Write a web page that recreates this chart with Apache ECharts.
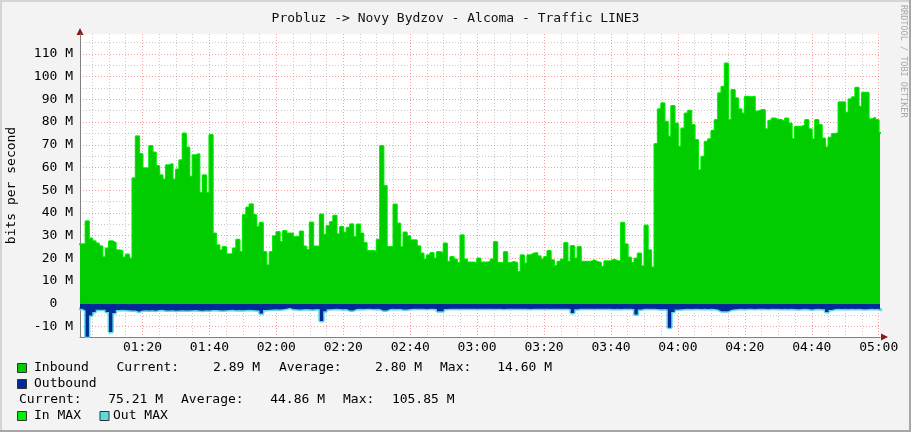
<!DOCTYPE html>
<html><head><meta charset="utf-8">
<script src="https://cdn.jsdelivr.net/npm/echarts@6/dist/echarts.min.js"></script>
<style>html,body{margin:0;padding:0;background:#f3f3f3}#c{width:911px;height:432px}</style>
</head><body><div id="c"></div>
<script>
const TITLE = 'Probluz -> Novy Bydzov - Alcoma - Traffic LINE3';
const Y_NAME = 'bits per second';
const SIDE_NOTE = 'RRDTOOL / TOBI OETIKER';
// one value per minute, first value = minute 61 (01:01), in Mbit/s
const FIRST_MINUTE = 61;
const inboundM = [
 26.2, 26.2, 36.3, 28.7, 27.5, 26.5, 25.3, 20.4, 24.3, 27.5,
 26.8, 23.5, 23.2, 20.3, 21.6, 19.9, 55.2, 73.8, 65.9, 59.6,
 59.6, 69.4, 66.6, 60.6, 56.6, 54.7, 61.0, 61.5, 54.7, 59.1,
 63.2, 75.0, 68.8, 55.9, 65.4, 65.9, 48.8, 56.6, 48.8, 74.3,
 30.9, 25.7, 23.5, 25.0, 21.8, 21.8, 24.3, 28.2, 22.8, 39.0,
 42.4, 43.8, 39.0, 33.8, 35.6, 22.8, 16.9, 22.8, 29.7, 31.6,
 27.2, 32.0, 30.9, 30.9, 29.4, 29.4, 31.8, 25.2, 23.6, 35.8,
 25.2, 25.2, 39.3, 30.4, 34.2, 36.0, 38.7, 30.6, 33.8, 31.2,
 33.4, 35.0, 29.4, 34.9, 30.9, 26.7, 23.2, 23.2, 22.8, 28.2,
 69.4, 51.8, 25.0, 25.0, 43.7, 35.3, 25.0, 31.3, 29.7, 27.9,
 27.9, 25.3, 22.1, 19.5, 21.3, 22.3, 19.9, 22.8, 22.1, 26.5,
 18.4, 20.6, 19.4, 17.9, 30.1, 19.4, 18.1, 18.1, 17.7, 19.9,
 18.1, 18.1, 18.4, 19.4, 27.2, 17.9, 17.9, 22.8, 17.9, 18.4,
 17.9, 13.9, 21.3, 17.7, 21.3, 22.1, 22.3, 20.9, 19.4, 20.6,
 23.2, 19.1, 16.6, 18.4, 19.4, 26.7, 18.4, 25.4, 19.9, 25.0,
 18.4, 18.4, 18.4, 19.1, 18.4, 18.0, 16.2, 18.7, 18.7, 19.4,
 18.7, 18.7, 35.6, 26.2, 20.3, 17.9, 19.9, 22.1, 16.5, 34.4,
 23.5, 15.9, 70.3, 85.7, 88.3, 80.1, 73.5, 87.1, 79.4, 69.1,
 77.2, 83.8, 85.0, 78.7, 72.1, 58.8, 64.7, 71.3, 72.4, 76.2,
 80.9, 92.7, 95.6, 105.85, 80.9, 94.1, 90.5, 85.6, 83.8, 91.2,
 90.9, 91.2, 84.6, 85.3, 85.3, 76.8, 80.6, 81.6, 80.9, 80.9,
 80.1, 81.6, 79.4, 72.5, 77.9, 77.9, 78.7, 80.9, 76.8, 72.4,
 80.9, 78.7, 72.8, 68.8, 73.1, 74.7, 75.3, 88.7, 88.7, 84.1,
 90.0, 90.9, 95.1, 86.8, 92.9, 92.9, 81.2, 81.9, 80.9, 75.21,
 75.21
];
const outboundM = [
 -2.2, -3.0, -14.6, -5.2, -3.7, -2.7, -2.7, -2.7, -3.7, -12.5,
 -4.1, -2.8, -2.7, -2.8, -2.9, -3.0, -3.0, -3.6, -3.0, -2.9,
 -3.0, -2.9, -3.1, -2.8, -2.7, -3.0, -3.0, -2.9, -3.1, -3.0,
 -2.9, -3.0, -3.0, -2.9, -2.8, -3.0, -3.1, -2.9, -3.0, -2.8,
 -2.8, -2.9, -3.0, -2.9, -2.8, -2.7, -2.9, -2.8, -2.9, -2.8,
 -2.7, -2.8, -2.9, -3.0, -4.4, -2.8, -2.7, -2.6, -2.5, -2.6,
 -2.5, -2.3, -1.8, -2.4, -2.5, -2.6, -2.5, -2.4, -2.5, -2.6,
 -2.4, -2.5, -7.7, -3.4, -2.5, -2.4, -2.3, -2.4, -2.5, -2.4,
 -3.0, -3.0, -2.4, -2.3, -2.4, -2.3, -2.2, -2.4, -2.3, -2.4,
 -3.0, -3.0, -2.4, -2.3, -2.4, -2.3, -2.6, -2.6, -2.4, -2.3,
 -2.3, -2.2, -2.3, -2.4, -2.2, -2.3, -2.4, -3.3, -3.3, -2.4,
 -2.2, -2.3, -2.2, -2.3, -2.2, -2.2, -2.3, -2.2, -2.3, -2.2,
 -2.2, -2.3, -2.2, -2.2, -2.3, -2.2, -2.4, -2.2, -2.2, -2.3,
 -2.2, -2.2, -2.3, -2.2, -2.4, -2.2, -2.2, -2.3, -2.2, -2.2,
 -2.3, -2.2, -2.2, -2.3, -2.2, -2.3, -2.4, -4.1, -2.5, -2.3,
 -2.2, -2.2, -2.3, -2.2, -2.3, -2.2, -2.2, -2.3, -2.2, -2.4,
 -2.3, -2.4, -2.3, -2.2, -2.3, -2.4, -4.8, -2.6, -2.3, -2.2,
 -2.3, -2.2, -2.4, -2.5, -2.4, -2.6, -10.6, -3.7, -2.6, -2.5,
 -2.4, -2.3, -2.4, -2.2, -2.3, -2.4, -2.3, -2.4, -2.3, -2.4,
 -2.6, -3.3, -3.3, -3.3, -2.7, -2.5, -2.4, -2.3, -2.4, -2.3,
 -2.3, -2.4, -2.3, -2.2, -2.3, -2.4, -2.3, -2.2, -2.3, -2.4,
 -2.3, -2.4, -2.3, -2.4, -2.5, -2.4, -2.3, -2.4, -2.6, -2.4,
 -2.3, -2.4, -2.5, -3.7, -2.8, -2.4, -2.3, -2.4, -2.3, -2.4,
 -2.3, -2.4, -2.3, -2.4, -2.5, -2.4, -2.3, -2.4, -2.3, -2.89,
 -2.89
];
// axis ticks (minutes since midnight / Mbit/s)
const xMajorTicks = [80, 100, 120, 140, 160, 180, 200, 220, 240, 260, 280, 300];
const xMinorTicks = [65, 70, 75, 85, 90, 95, 105, 110, 115, 125, 130, 135, 145, 150, 155, 165, 170, 175,
  185, 190, 195, 205, 210, 215, 225, 230, 235, 245, 250, 255, 265, 270, 275, 285, 290, 295];
const yMajorTicks = [-10, 0, 10, 20, 30, 40, 50, 60, 70, 80, 90, 100, 110];
const yMinorTicks = [-5, 5, 15, 25, 35, 45, 55, 65, 75, 85, 95, 105, 115];
const X_MIN = 61.33, X_MAX = 300.39;
const Y_MIN = -14.7, Y_MAX = 118.8;
// legend texts
const legendRow1 = ['Inbound', 'Current:', '2.89 M', 'Average:', '2.80 M', 'Max:', '14.60 M'];
const legendRow2 = ['Outbound'];
const legendRow3 = ['Current:', '75.21 M', 'Average:', '44.86 M', 'Max:', '105.85 M'];
const legendRow4 = ['In MAX', 'Out MAX'];

const FONT = 'DejaVu Sans Mono';
const C_IN = '#00cc00', C_INMAX = '#00f000', C_OUT = '#002a97', C_OUTMAX = '#5fd8df';
const MAJOR_GRID = 'rgba(240,80,80,0.55)', MINOR_GRID = 'rgba(140,140,140,0.45)';

const inData = inboundM.map((v, i) => [FIRST_MINUTE + i, v]);
const outData = outboundM.map((v, i) => [FIRST_MINUTE + i, v]);
const pad = n => (n < 10 ? '0' : '') + n;
const fmtTime = v => pad(Math.floor(v / 60)) + ':' + pad(v % 60);

const chart = echarts.init(document.getElementById('c'), null, {renderer: 'canvas'});

function txt(x, y, s, align) {
  return {type: 'text', x: x, y: y, silent: true,
    style: {text: s, font: '13px "' + FONT + '"', fill: '#000', verticalAlign: 'middle', align: align || 'left'}};
}
function sq(x, y, color) {
  return {type: 'rect', shape: {x: x, y: y, width: 9, height: 9}, silent: true,
    style: {fill: color, stroke: '#333', lineWidth: 1}};
}
const L1 = 368, L2 = 384, L3 = 400, L4 = 416;
const graphics = [
  // frame
  {type: 'rect', shape: {x: 0, y: 0, width: 911, height: 2}, style: {fill: '#d4d4d4'}, silent: true},
  {type: 'rect', shape: {x: 0, y: 0, width: 2, height: 432}, style: {fill: '#d4d4d4'}, silent: true},
  {type: 'rect', shape: {x: 909, y: 0, width: 2, height: 432}, style: {fill: '#a6a6a6'}, silent: true},
  {type: 'rect', shape: {x: 0, y: 430, width: 911, height: 2}, style: {fill: '#a6a6a6'}, silent: true},
  // arrows
  {type: 'polygon', shape: {points: [[76.5, 35], [83.5, 35], [80, 28]]}, style: {fill: '#8e1717'}, silent: true},
  {type: 'polygon', shape: {points: [[881, 333.5], [881, 340.5], [888, 337]]}, style: {fill: '#8e1717'}, silent: true},
  // side note
  {type: 'text', x: 903, y: 5, rotation: -Math.PI / 2, silent: true,
   style: {text: SIDE_NOTE, font: '8.5px "' + FONT + '"', fill: '#a8a8a8', align: 'left', verticalAlign: 'middle'}},
  // legend
  sq(17.5, L1 - 4.5, C_IN), txt(34, L1, legendRow1[0]), txt(116.5, L1, legendRow1[1]),
  txt(260, L1, legendRow1[2], 'right'), txt(279, L1, legendRow1[3]),
  txt(422, L1, legendRow1[4], 'right'), txt(440, L1, legendRow1[5]),
  txt(552, L1, legendRow1[6], 'right'),
  sq(17.5, L2 - 4.5, C_OUT), txt(34, L2, legendRow2[0]),
  txt(19, L3, legendRow3[0]), txt(163, L3, legendRow3[1], 'right'),
  txt(181, L3, legendRow3[2]), txt(325, L3, legendRow3[3], 'right'),
  txt(343, L3, legendRow3[4]), txt(454.5, L3, legendRow3[5], 'right'),
  sq(17.5, L4 - 4.5, C_INMAX), txt(34, L4, legendRow4[0]),
  sq(100, L4 - 4.5, C_OUTMAX), txt(113, L4, legendRow4[1])
];

const labelStyle = {fontFamily: FONT, fontSize: 13, color: '#000'};
chart.setOption({
  animation: false,
  backgroundColor: '#f3f3f3',
  title: {text: TITLE, left: 'center', top: 7,
    textStyle: {fontFamily: FONT, fontSize: 13, fontWeight: 'normal', color: '#111'}},
  grid: {left: 80, right: 31, top: 34, bottom: 95, show: true, backgroundColor: '#ffffff', borderWidth: 0,
    containLabel: false, outerBoundsMode: 'none'},
  xAxis: [
    {type: 'value', min: X_MIN, max: X_MAX, position: 'top',
     axisLine: {show: false}, axisTick: {show: false, customValues: xMinorTicks},
     axisLabel: {show: false, customValues: xMinorTicks},
     splitLine: {show: true, lineStyle: {color: MINOR_GRID, width: 1, type: [1, 2]}}},
    {type: 'value', min: X_MIN, max: X_MAX, position: 'bottom',
     axisLine: {show: true, onZero: false, lineStyle: {color: '#808080', width: 1}},
     axisTick: {show: false, customValues: xMajorTicks},
     axisLabel: Object.assign({customValues: xMajorTicks, formatter: fmtTime, margin: 4}, labelStyle),
     splitLine: {show: true, lineStyle: {color: MAJOR_GRID, width: 1, type: [1, 2]}}}
  ],
  yAxis: [
    {type: 'value', min: Y_MIN, max: Y_MAX, position: 'right',
     axisLine: {show: false}, axisTick: {show: false, customValues: yMinorTicks},
     axisLabel: {show: false, customValues: yMinorTicks},
     splitLine: {show: true, lineStyle: {color: MINOR_GRID, width: 1, type: [1, 2]}}},
    {type: 'value', min: Y_MIN, max: Y_MAX, position: 'left',
     name: Y_NAME, nameLocation: 'middle', nameGap: 62, nameRotate: 90,
     nameTextStyle: {fontFamily: FONT, fontSize: 13, color: '#000'},
     axisLine: {show: true, onZero: false, lineStyle: {color: '#808080', width: 1}},
     axisTick: {show: false, customValues: yMajorTicks},
     axisLabel: Object.assign({customValues: yMajorTicks, margin: 7,
       formatter: v => (v === 0 ? '0  ' : v + ' M')}, labelStyle),
     splitLine: {show: true, lineStyle: {color: MAJOR_GRID, width: 1, type: [1, 2]}}}
  ],
  series: [
    {name: 'In MAX', type: 'line', xAxisIndex: 1, yAxisIndex: 1, data: inData, step: 'end',
     showSymbol: false, z: 2, lineStyle: {color: C_INMAX, width: 2}},
    {name: 'Inbound', type: 'line', xAxisIndex: 1, yAxisIndex: 1, data: inData, step: 'end',
     showSymbol: false, z: 3, lineStyle: {width: 0}, areaStyle: {color: C_IN, opacity: 1}},
    {name: 'Out MAX', type: 'line', xAxisIndex: 1, yAxisIndex: 1, data: outData, step: 'end',
     showSymbol: false, z: 2, lineStyle: {color: C_OUTMAX, width: 3}},
    {name: 'Outbound', type: 'line', xAxisIndex: 1, yAxisIndex: 1, data: outData, step: 'end',
     showSymbol: false, z: 3, lineStyle: {width: 0}, areaStyle: {color: C_OUT, opacity: 1}}
  ],
  graphic: graphics
});
</script></body></html>
